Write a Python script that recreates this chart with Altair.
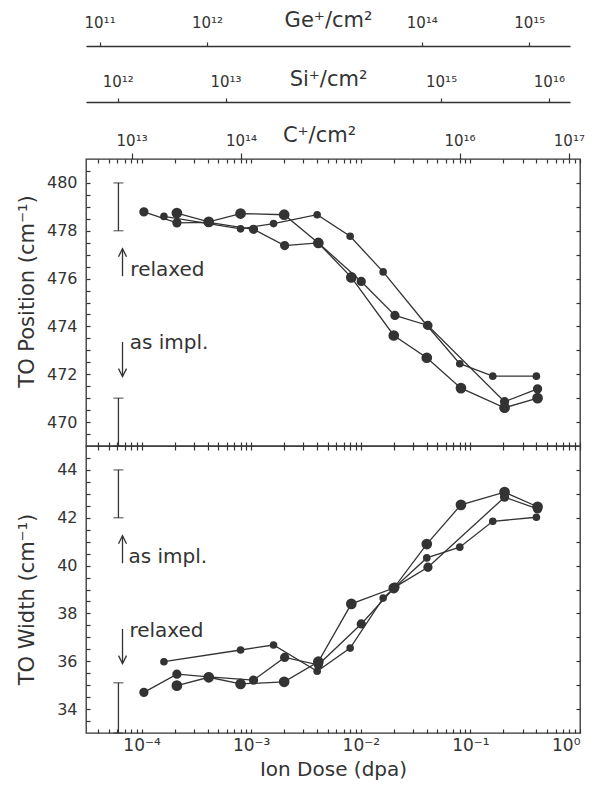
import math
import altair as alt
import pandas as pd

INK = "#333333"
FONT = "DejaVu Sans"

# ---------------- data ----------------
SERIES = ["Ge", "Si", "C"]
SIZES = [115, 58, 20]

GE_DOSE = [2.1e-4, 4.1e-4, 8.0e-4, 2.0e-3, 4.1e-3, 8.2e-3, 2.0e-2, 4.0e-2, 8.2e-2, 2.05e-1, 4.1e-1]
GE_POS = [478.74, 478.37, 478.72, 478.67, 477.49, 476.05, 473.62, 472.69, 471.42, 470.60, 471.00]
GE_WIDTH = [34.98, 35.33, 35.05, 35.14, 35.98, 38.40, 39.06, 40.90, 42.54, 43.07, 42.46]

SI_DOSE = [1.05e-4, 2.1e-4, 4.1e-4, 1.05e-3, 2.02e-3, 4.1e-3, 1.01e-2, 2.05e-2, 4.1e-2, 2.05e-1, 4.1e-1]
SI_POS = [478.79, 478.33, 478.35, 478.06, 477.38, 477.49, 475.88, 474.46, 474.04, 470.85, 471.39]
SI_WIDTH = [34.70, 35.46, 35.35, 35.21, 36.16, 35.85, 37.56, 39.10, 39.93, 42.86, 42.37]

C_DOSE = [1.6e-4, 8.0e-4, 1.6e-3, 4.0e-3, 8.0e-3, 1.6e-2, 4.0e-2, 8.0e-2, 1.6e-1, 4.0e-1]
C_POS = [478.60, 478.08, 478.30, 478.67, 477.77, 476.28, 474.05, 472.44, 471.92, 471.92]
C_WIDTH = [35.98, 36.47, 36.68, 35.58, 36.55, 38.64, 40.32, 40.77, 41.85, 42.02]

# reference bars, arrows and notes
POS_BARS_LO = [478.0, 469.0]
POS_BARS_HI = [480.0, 471.0]
POS_ARROW_FROM = [476.1, 473.35]
POS_ARROW_TO = [477.25, 471.9]
POS_NOTES = ["relaxed", "as impl."]
POS_NOTE_Y = [476.1, 473.05]
POS_NOTE_DOSE = [7.9e-5, 7.8e-5]

WID_BARS_LO = [42.0, 33.0]
WID_BARS_HI = [44.0, 35.1]
WID_ARROW_FROM = [40.1, 37.35]
WID_ARROW_TO = [41.25, 35.9]
WID_NOTES = ["as impl.", "relaxed"]
WID_NOTE_Y = [40.1, 37.0]
WID_NOTE_DOSE = [7.6e-5, 7.75e-5]

BAR_DOSE = 6.15e-5
ARROW_DOSE = 6.7e-5

# axes
DOSE_DOMAIN = [10 ** -4.507, 1.0]
POS_DOMAIN = [469, 481]
WIDTH_DOMAIN = [33, 45]
DOSE_LABELS = {-4: "10⁻⁴", -3: "10⁻³", -2: "10⁻²", -1: "10⁻¹", 0: "10⁰"}
GE_LABELS = {11: "10¹¹", 12: "10¹²", 14: "10¹⁴", 15: "10¹⁵"}
SI_LABELS = {12: "10¹²", 13: "10¹³", 15: "10¹⁵", 16: "10¹⁶"}
C_LABELS = {13: "10¹³", 14: "10¹⁴", 16: "10¹⁶", 17: "10¹⁷"}
GE_DOMAIN = [10 ** 10.8735, 10 ** 15.3795]
SI_DOMAIN = [10 ** 11.7055, 10 ** 16.196]
C_DOMAIN = [10 ** 12.5826, 10 ** 17.1016]

W, H = 494, 287
ION_W = 484

DOSE_TICKS = [k * 10.0 ** d for d in range(-5, 0) for k in range(1, 10)
              if DOSE_DOMAIN[0] < k * 10.0 ** d < DOSE_DOMAIN[1]] + [1.0]

TICK_STYLE = dict(ticks=True, tickColor=INK, tickWidth=1.2, tickOpacity=1)


def sup_expr(labels):
    parts = [f"abs(log(datum.value)/LN10 - ({e})) < 0.01 ? '{t}'" for e, t in labels.items()]
    return " : ".join(parts) + " : ''"


def dose_x(field, axis=None):
    return alt.X(f"{field}:Q", scale=alt.Scale(type="log", domain=DOSE_DOMAIN), axis=axis)


def val_y(field, domain, axis=None):
    return alt.Y(f"{field}:Q", scale=alt.Scale(domain=domain, nice=False, zero=False), axis=axis)


UP_HEAD = "M-1,2L0,0L1,2"
DOWN_HEAD = "M-1,-2L0,0L1,-2"


def ion_axis(labels, domain, rng, offset, tick, pad, title, title_x, title_y, show_domain, ydomain):
    vals = [10.0 ** e for e in labels]
    ax = dict(orient="top", values=vals, labelExpr=sup_expr(labels), tickSize=tick,
              labelPadding=pad, labelBaseline="alphabetic", labelFontSize=15,
              labelOverlap=False, labelFlush=False, domain=show_domain, grid=False,
              offset=offset, title=title, titleX=title_x, titleY=title_y,
              titleAlign="center", titleBaseline="alphabetic", titleFontSize=21,
              titleAngle=0, **TICK_STYLE)
    sc = dict(type="log", domain=domain)
    if rng is not None:
        sc["range"] = rng
    df = pd.DataFrame({"v": vals, "y": [ydomain[0]] * len(vals)})
    return alt.Chart(df).mark_point(opacity=0, size=1).encode(
        x=alt.X("v:Q", scale=alt.Scale(**sc), axis=alt.Axis(**ax)),
        y=val_y("y", ydomain))


def panel(vals, domain, ytitle, title_y, bars_lo, bars_hi, arr_from, arr_to,
          notes, note_y, note_dose, bottom_labels):
    rows = []
    for name, doses, vv in vals:
        for d, v in zip(doses, vv):
            rows.append({"series": name, "dose": d, "val": v})
    df = pd.DataFrame(rows)

    y_ticks = [domain[0] + 0.5 * i for i in range(1, 2 * (domain[1] - domain[0]))]
    left_axis = alt.Axis(
        values=y_ticks,
        labelExpr="datum.value % 2 == 0 ? format(datum.value, 'd') : ''",
        offset=-4, tickSize=4, domain=False, grid=False, labelPadding=9,
        labelFontSize=16, labelOverlap=False, labelFlush=False,
        title=ytitle, titleX=-57, titleY=title_y, titleAngle=270,
        titleAlign="center", titleBaseline="alphabetic", titleFontSize=21,
        **TICK_STYLE,
    )
    if bottom_labels:
        bottom_axis = alt.Axis(
            values=DOSE_TICKS, labelExpr=sup_expr(DOSE_LABELS), offset=-4, tickSize=4,
            domain=False, grid=False, labelPadding=17, labelBaseline="alphabetic",
            labelFontSize=17, labelOverlap=False, labelFlush=True,
            title="Ion Dose (dpa)", titleFontSize=20, titleBaseline="alphabetic",
            titleX=W / 2, titleY=46, titleAlign="center", **TICK_STYLE,
        )
    else:
        bottom_axis = alt.Axis(values=DOSE_TICKS, labels=False, offset=-4, tickSize=4,
                               domain=False, grid=False, title=None, **TICK_STYLE)

    layers = []
    layers.append(alt.Chart(df).mark_line(color=INK, strokeWidth=1.3).encode(
        x=dose_x("dose", bottom_axis), y=val_y("val", domain, left_axis), detail="series:N"))
    layers.append(alt.Chart(df).mark_circle(color=INK, opacity=1).encode(
        x=dose_x("dose"), y=val_y("val", domain),
        size=alt.Size("series:N", scale=alt.Scale(domain=SERIES, range=SIZES), legend=None)))

    bars = pd.DataFrame({"dose": [BAR_DOSE] * len(bars_lo), "lo": bars_lo, "hi": bars_hi})
    layers.append(alt.Chart(bars).mark_rule(color=INK, strokeWidth=1.3).encode(
        x=dose_x("dose"), y=val_y("lo", domain), y2="hi:Q"))
    caps_df = pd.DataFrame({"dose": [BAR_DOSE] * (2 * len(bars_lo)), "v": bars_lo + bars_hi})
    layers.append(alt.Chart(caps_df).mark_tick(color=INK, orient="horizontal", size=10,
                                               thickness=1.3).encode(
        x=dose_x("dose"), y=val_y("v", domain)))

    arr = pd.DataFrame({"dose": [ARROW_DOSE] * len(arr_from), "a": arr_from, "b": arr_to})
    layers.append(alt.Chart(arr).mark_rule(color=INK, strokeWidth=1.3).encode(
        x=dose_x("dose"), y=val_y("a", domain), y2="b:Q"))
    for a, b in zip(arr_from, arr_to):
        hd = pd.DataFrame({"dose": [ARROW_DOSE], "b": [b]})
        layers.append(alt.Chart(hd).mark_point(
            shape=UP_HEAD if b > a else DOWN_HEAD, filled=False, size=64,
            strokeWidth=1.3, color=INK, opacity=1).encode(
            x=dose_x("dose"), y=val_y("b", domain)))

    notes_df = pd.DataFrame({"dose": note_dose, "y": note_y, "t": notes})
    layers.append(alt.Chart(notes_df).mark_text(
        align="left", baseline="alphabetic", fontSize=20, font=FONT, color=INK).encode(
        x=dose_x("dose"), y=val_y("y", domain), text="t:N"))

    # inner tick marks on top edge and right edge
    tdf = pd.DataFrame({"v": DOSE_TICKS, "y": [domain[0]] * len(DOSE_TICKS)})
    layers.append(alt.Chart(tdf).mark_point(opacity=0, size=1).encode(
        x=alt.X("v:Q", scale=alt.Scale(type="log", domain=DOSE_DOMAIN),
                axis=alt.Axis(orient="top", values=DOSE_TICKS, labels=False, offset=-4,
                              tickSize=4, domain=False, grid=False, title=None,
                              **TICK_STYLE)),
        y=val_y("y", domain)))
    r_ticks = list(range(domain[0] + 1, domain[1]))
    rdf = pd.DataFrame({"v": r_ticks, "d": [DOSE_DOMAIN[0]] * len(r_ticks)})
    layers.append(alt.Chart(rdf).mark_point(opacity=0, size=1).encode(
        x=dose_x("d"),
        y=alt.Y("v:Q", scale=alt.Scale(domain=domain, nice=False, zero=False),
                axis=alt.Axis(orient="right", values=r_ticks, labels=False, offset=-4,
                              tickSize=4, domain=False, grid=False, title=None,
                              **TICK_STYLE))))
    return layers


upper_layers = panel(
    [("Ge", GE_DOSE, GE_POS), ("Si", SI_DOSE, SI_POS), ("C", C_DOSE, C_POS)],
    POS_DOMAIN, "TO Position (cm⁻¹)", 132,
    POS_BARS_LO, POS_BARS_HI, POS_ARROW_FROM, POS_ARROW_TO,
    POS_NOTES, POS_NOTE_Y, POS_NOTE_DOSE, False)

upper_layers += [
    ion_axis(C_LABELS, C_DOMAIN, None, 0, 6, 8, "C⁺/cm²", 233, -18, False, POS_DOMAIN),
    ion_axis(GE_LABELS, GE_DOMAIN, [0, ION_W], 113, 4, 15, "Ge⁺/cm²", 242, -20, True, POS_DOMAIN),
    ion_axis(SI_LABELS, SI_DOMAIN, [0, ION_W], 57, 4, 12, "Si⁺/cm²", 242, -17, True, POS_DOMAIN),
]

upper = alt.layer(*upper_layers).resolve_scale(
    x="independent", y="independent").properties(width=W, height=H)

lower_layers = panel(
    [("Ge", GE_DOSE, GE_WIDTH), ("Si", SI_DOSE, SI_WIDTH), ("C", C_DOSE, C_WIDTH)],
    WIDTH_DOMAIN, "TO Width (cm⁻¹)", 153,
    WID_BARS_LO, WID_BARS_HI, WID_ARROW_FROM, WID_ARROW_TO,
    WID_NOTES, WID_NOTE_Y, WID_NOTE_DOSE, True)

lower = alt.layer(*lower_layers).resolve_scale(
    x="independent", y="independent").properties(width=W, height=H)

chart = alt.vconcat(upper, lower, spacing=0, bounds="flush").properties(
    padding={"left": 7, "top": 0, "right": 0, "bottom": 0}
).configure_view(stroke=INK, strokeWidth=1.3).configure_axis(
    labelFont=FONT, titleFont=FONT, labelColor=INK, titleColor=INK,
    domainColor=INK, domainWidth=1.3, titleFontWeight="normal")

chart.save("out.html", embed_options={"renderer": "svg", "actions": False})
